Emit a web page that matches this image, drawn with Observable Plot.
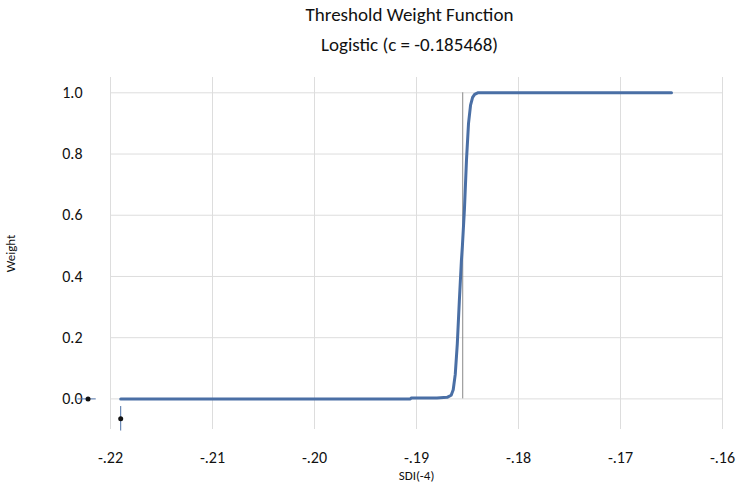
<!DOCTYPE html>
<html><head>
<script src="https://cdn.jsdelivr.net/npm/d3@7"></script>
<script src="https://cdn.jsdelivr.net/npm/@observablehq/plot@0.6"></script>
<style>
body{margin:0;background:#fff;font-family:Calibri,"Liberation Sans",Arial,sans-serif;}
#t{text-align:center;font-size:19px;line-height:30px;color:#111;height:65px;padding-left:70px;}
</style></head><body>
<div id="t">Threshold Weight Function<br>Logistic (c = -0.185468)</div>
<div id="c"></div>
<script>
const curveX = [-0.2190,-0.2100,-0.2000,-0.1950,-0.1906,-0.1905,-0.1880,-0.1870,-0.1866,-0.1864,-0.1862,-0.1860,-0.1858,-0.1856,-0.1855,-0.1853,-0.1851,-0.1849,-0.1847,-0.1845,-0.1843,-0.1840,-0.1800,-0.1700,-0.1650];
const curveY = [0,0,0,0,0,0.003,0.003,0.005,0.012,0.03,0.08,0.18,0.32,0.45,0.5,0.62,0.78,0.9,0.96,0.985,0.995,1,1,1,1];
const threshold = -0.185468;
const pointsX = [-0.2222,-0.2190];
const pointsY = [0,-0.065];
const xTicks = [-0.22,-0.21,-0.20,-0.19,-0.18,-0.17,-0.16];
const yTicks = [0,0.2,0.4,0.6,0.8,1.0];

const curve = curveX.map((x,i)=>({x,y:curveY[i]}));
const pts = pointsX.map((x,i)=>({x,y:pointsY[i]}));
const fmtX = d => d.toFixed(2).replace("0.",".");
const chart = Plot.plot({
  width:749, height:421,
  marginLeft:110, marginRight:27, marginTop:12, marginBottom:57,
  style:{fontFamily:"Calibri,'Liberation Sans',Arial,sans-serif", fontSize:"16px", color:"#111"},
  x:{type:"linear", domain:[-0.22,-0.16]},
  y:{type:"linear", domain:[-0.1,1.05]},
  marks:[
    Plot.gridX(xTicks,{stroke:"#ddd",strokeOpacity:1}),
    Plot.gridY(yTicks,{stroke:"#ddd",strokeOpacity:1}),
    Plot.axisX({ticks:xTicks, tickFormat:fmtX, tickSize:0, tickPadding:22, label:null, fontSize:16}),
    Plot.axisX({ticks:[], label:"SDI(-4)", labelAnchor:"center", labelArrow:"none", labelOffset:50, fontSize:13}),
    Plot.axisY({ticks:yTicks, tickFormat:d=>d.toFixed(1), tickSize:0, tickPadding:28, label:null, fontSize:16}),
    Plot.axisY({ticks:[], label:"Weight", labelAnchor:"center", labelArrow:"none", labelOffset:105, fontSize:13}),
    Plot.ruleX([threshold],{y1:0,y2:1,stroke:"#888",strokeWidth:1}),
    Plot.line(curve,{x:"x",y:"y",stroke:"#4a6fa5",strokeWidth:3}),
    Plot.ruleY([pts[0].y],{x1:pts[0].x-0.001,x2:pts[0].x+0.0008,stroke:"#4a6fa5"}),
    Plot.ruleX([pts[1].x],{y1:pts[1].y-0.04,y2:pts[1].y+0.04,stroke:"#4a6fa5"}),
    Plot.dot(pts,{x:"x",y:"y",r:2.5,fill:"#111"})
  ]
});
document.getElementById("c").append(chart);
</script></body></html>
